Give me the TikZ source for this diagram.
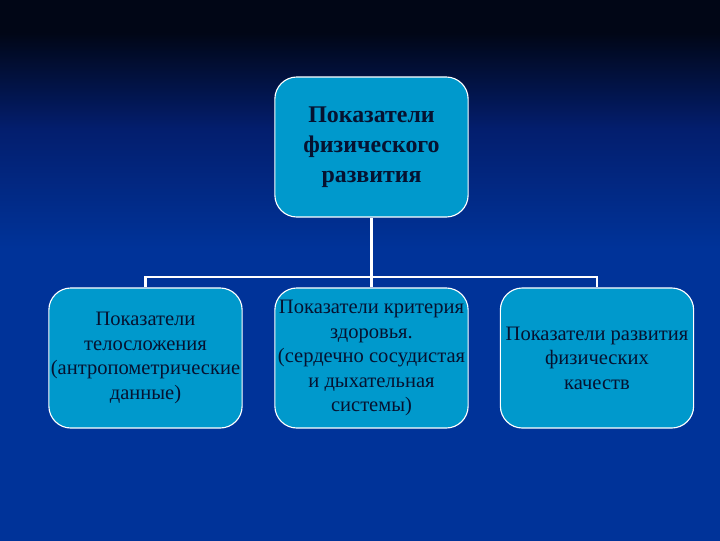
\documentclass[tikz,border=0pt]{standalone}
\usepackage{fontspec}
\setmainfont{Liberation Serif}
\usepackage{tikz}
\usetikzlibrary{positioning, calc}
\definecolor{slidetop}{RGB}{1, 6, 22}
\definecolor{slidemid}{RGB}{3, 30, 110}
\definecolor{slidebot}{RGB}{0, 51, 153}
\definecolor{boxcyan}{RGB}{0, 153, 204}
\definecolor{boxtext}{RGB}{6, 18, 48}
\pgfdeclareverticalshading{slidebg}{100bp}{
    color(0bp)=(slidebot); color(52bp)=(slidebot);
    color(63bp)=(slidemid); color(72bp)=(slidetop); color(100bp)=(slidetop)}
\tikzset{
    infobox/.style = {
        draw=white, line width=0.8pt, fill=boxcyan,
        rounded corners=0.55cm,
        minimum width=4.83cm, minimum height=3.5cm,
        align=center, text=boxtext, inner sep=1pt
    },
    link/.style = {draw=white, line width=1.5pt}
}

\begin{document}
\begin{tikzpicture}[x=0.025cm, y=-0.025cm]
    % Background
    \shade[shading=slidebg] (0,0) rectangle (720,540);
    \useasboundingbox (0,0) rectangle (720,540);

    % Top box
    \node[infobox, font=\fontsize{17}{21.3}\selectfont\bfseries] (main) at (371.5,147)
        {Показатели\\физического\\развития};

    % Bottom boxes
    \node[infobox, font=\fontsize{14.6}{17.4}\selectfont] (body) at (145.5,358)
        {Показатели\\телосложения\\(антропометрические\\данные)};
    \node[infobox, font=\fontsize{14.6}{17.4}\selectfont] (health) at (371.5,358)
        {Показатели критерия\\здоровья.\\(сердечно сосудистая\\и дыхательная\\системы)};
    \node[infobox, font=\fontsize{14.6}{17.4}\selectfont] (skills) at (597,358)
        {Показатели развития\\физических\\качеств};

    % Connectors
    \coordinate (fork) at ($(main.south)+(0,59)$);
    \draw[link] (main.south) -- (fork);
    \draw[link] (fork) -| (body.north);
    \draw[link] (fork) -| (skills.north);
    \draw[link] (fork) -- (health.north);
\end{tikzpicture}
\end{document}
